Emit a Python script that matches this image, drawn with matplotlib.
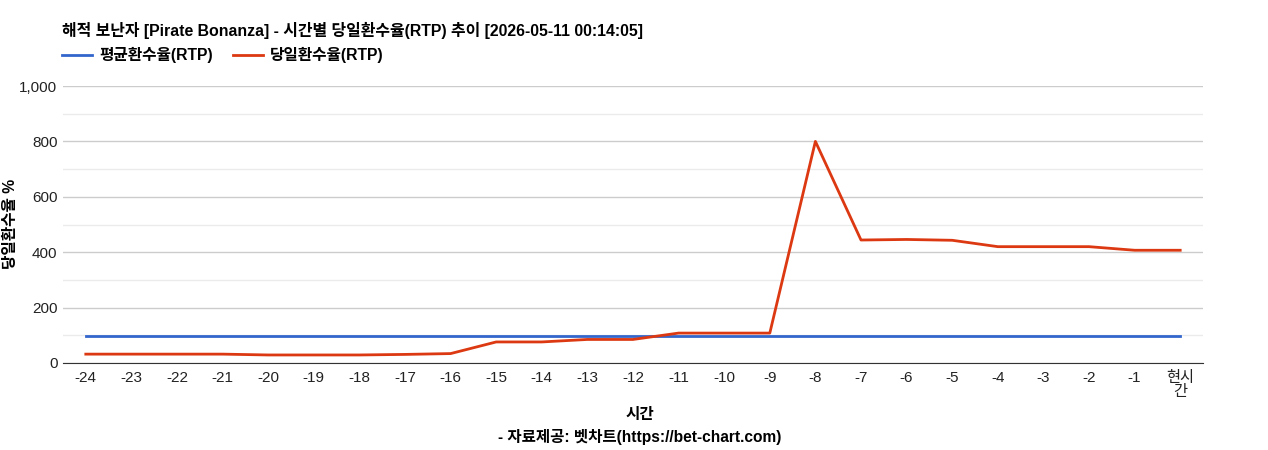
import matplotlib
matplotlib.use('Agg')
import matplotlib.pyplot as plt
from matplotlib.ticker import MultipleLocator, FuncFormatter

plt.rcParams['font.family'] = ['Liberation Sans', 'Noto Sans CJK KR', 'DejaVu Sans']

# Data
hours = ['-24', '-23', '-22', '-21', '-20', '-19', '-18', '-17', '-16', '-15',
         '-14', '-13', '-12', '-11', '-10', '-9', '-8', '-7', '-6', '-5',
         '-4', '-3', '-2', '-1', '현시\n간']
avgRtp = [96] * 25
dailyRtp = [32, 32, 32, 32, 29, 29, 29, 31, 34, 76,
            76, 85, 85, 108, 108, 108, 800, 444, 446, 443,
            420, 420, 420, 407, 407]

BLUE = '#3366cc'
RED = '#dc3912'
FS = 11.3

fig = plt.figure(figsize=(12.68, 4.5), dpi=100)
ax = fig.add_axes([63 / 1268, 1 - 363 / 450, (1203 - 63) / 1268, (363 - 86) / 450])

x = list(range(len(hours)))
ax.plot(x, avgRtp, color=BLUE, lw=2, label='평균환수율(RTP)', zorder=3)
ax.plot(x, dailyRtp, color=RED, lw=2, label='당일환수율(RTP)', zorder=4)

ax.set_xlim(-0.5, len(hours) - 0.5)
ax.set_ylim(0, 1000)
ax.set_xticks(x)
ax.set_xticklabels(hours, fontsize=11, color='#222222', linespacing=1.0)
ax.yaxis.set_major_locator(MultipleLocator(200))
ax.yaxis.set_minor_locator(MultipleLocator(100))
ax.yaxis.set_major_formatter(FuncFormatter(lambda v, p: f'{int(v):,}'))
ax.tick_params(axis='y', which='both', length=0, labelsize=11, labelcolor='#222222', pad=4)
ax.tick_params(axis='x', length=0, pad=6)

ax.grid(axis='y', which='major', color='#cccccc', lw=1)
ax.grid(axis='y', which='minor', color='#ebebeb', lw=1)
for side in ['top', 'right', 'left']:
    ax.spines[side].set_visible(False)
ax.spines['bottom'].set_color('#333333')
ax.set_axisbelow(True)

# y axis title
fig.text(11 / 1268, 1 - 224 / 450, '당일환수율 %', rotation=90, ha='center', va='center',
         fontsize=FS, fontweight='bold')

fig.text(640 / 1268, 1 - 415 / 450, '시간', ha='center', va='center',
         fontsize=FS, fontweight='bold')
fig.text(640 / 1268, 1 - 437 / 450, '- 자료제공: 벳차트(https://bet-chart.com)',
         ha='center', va='center', fontsize=FS - 0.1, fontweight='bold')

fig.text(62 / 1268, 1 - 30 / 450,
         '해적 보난자 [Pirate Bonanza] - 시간별 당일환수율(RTP) 추이 [2026-05-11 00:14:05]',
         ha='left', va='center', fontsize=FS + 0.15, fontweight='bold')

leg = fig.legend(loc='center left', bbox_to_anchor=(62 / 1268, 1 - 55 / 450), ncol=2,
                 frameon=False, prop={'size': FS, 'weight': 'bold'},
                 borderpad=0, borderaxespad=0,
                 handlelength=1.9, columnspacing=1.3, handletextpad=0.45)

fig.savefig('out.png', dpi=100)
